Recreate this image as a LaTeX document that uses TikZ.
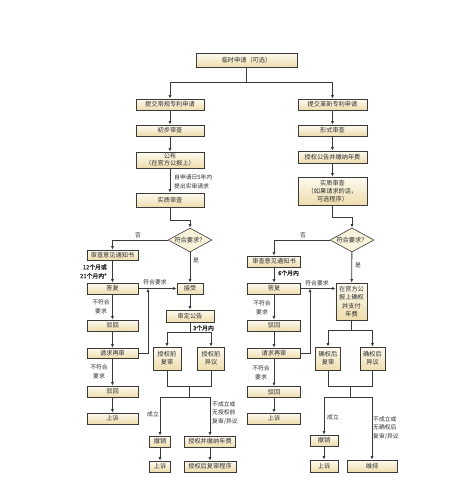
\documentclass[tikz,border=0pt]{standalone}
\usepackage{fontspec}
\setmainfont{Noto Sans CJK SC}
\newfontfamily\bfcjk[FakeBold=1.5]{Noto Sans CJK SC}
\usetikzlibrary{shapes.geometric,arrows.meta,calc}
\definecolor{lnc}{HTML}{3A3A3A}
\definecolor{bxtop}{HTML}{FDFAF0}
\definecolor{bxbot}{HTML}{EEDDAD}
\definecolor{dmd}{HTML}{F7F2DA}
\definecolor{txt}{HTML}{2E2E2E}
\begin{document}
\begin{tikzpicture}[x=1pt,y=-1pt,
  every node/.style={text=txt, font=\fontsize{6.2}{8}\selectfont},
  bx/.style 2 args={draw=lnc, line width=0.6pt, top color=bxtop, bottom color=bxbot,
    minimum width=#1, minimum height=#2, inner sep=0pt, align=center},
  dm/.style={diamond, draw=lnc, line width=0.6pt, fill=dmd, minimum width=44,
    minimum height=24, inner sep=0pt, aspect=1.8},
  lb/.style={inner sep=0pt, align=center, font=\fontsize{5.8}{8.8}\selectfont},
  blb/.style={inner sep=0pt, align=right, font=\bfcjk\fontsize{5.8}{8.8}\selectfont},
  ar/.style={draw=lnc, line width=0.8pt, -{Latex[length=3.5pt,width=3pt]}},
  cn/.style={draw=lnc, line width=0.8pt}]
\fill[white] (0,0) rectangle (455,504);
\useasboundingbox (0,0) rectangle (455,504);

% boxes
\node[bx={101}{14}] (top) at (246.5,60) {临时申请（可选）};
\node[bx={68}{11}] (L1) at (170,104.5) {提交常规专利申请};
\node[bx={69}{11}] (R1) at (332.5,104.5) {提交革新专利申请};
\node[bx={68}{11}] (L2) at (170,130.5) {初步审查};
\node[bx={69}{11}] (R2) at (332.5,130.5) {形式审查};
\node[bx={68}{16}, font=\fontsize{6.2}{7.2}\selectfont] (L3) at (170,160) {公布\\（在官方公报上）};
\node[bx={69}{12}] (R3) at (332.5,157) {授权公告并缴纳年费};
\node[bx={68}{14}] (L4) at (170,200) {实质审查};
\node[bx={69}{28}] (R4) at (332.5,191) {实质审查\\（如果请求的话，\\可选程序）};
\node[dm] (LD) at (190,240) {符合要求？};
\node[dm] (RD) at (352,240) {符合要求？};
\node[bx={51}{10}] (L5) at (112.5,255) {审查意见通知书};
\node[bx={53}{11}] (R5) at (274,261.5) {审查意见通知书};
\node[bx={51}{11}] (L6) at (112.5,288.5) {答复};
\node[bx={53}{11}] (R6) at (274,288.5) {答复};
\node[bx={26}{11}] (Lacc) at (190,288.5) {接受};
\node[bx={31}{37}, font=\fontsize{6.2}{8.5}\selectfont] (Rok) at (351.5,301.5) {在官方公\\报上确权\\并支付\\年费};
\node[bx={51}{11}] (L7) at (112.5,325.5) {驳回};
\node[bx={53}{11}] (R7) at (274,325.5) {驳回};
\node[bx={51}{10}] (L8) at (112.5,353) {请求再审};
\node[bx={53}{10}] (R8) at (274,353) {请求再审};
\node[bx={51}{11}] (L9) at (112.5,391.5) {驳回};
\node[bx={53}{11}] (R9) at (274,392) {驳回};
\node[bx={51}{11}] (L10) at (112.5,418.5) {上诉};
\node[bx={53}{11}] (R10) at (274,418.5) {上诉};
\node[bx={48}{12}] (Lpub) at (190,316) {审定公告};
\node[bx={28}{23}] (Lre) at (167,358.5) {授权前\\复审};
\node[bx={27}{23}] (Lop) at (211,358.5) {授权前\\异议};
\node[bx={25}{23}] (Rre) at (328,358.5) {确权后\\复审};
\node[bx={25}{23}] (Rop) at (372.5,358.5) {确权后\\异议};
\node[bx={21}{11}] (Lrev) at (160,441.5) {撤销};
\node[bx={51}{11}] (Lgr) at (210,441.5) {授权并缴纳年费};
\node[bx={21}{11}] (Lap) at (160,466.5) {上诉};
\node[bx={52}{11}] (Lpost) at (210,466.5) {授权后复审程序};
\node[bx={28}{11}] (Rrev) at (324,440.5) {撤销};
\node[bx={28}{12}] (Rap) at (324,466) {上诉};
\node[bx={50}{12}] (Rkeep) at (372,466) {维持};

% labels
\node[lb, anchor=west, align=left] (t1) at (174,182) {自申请日5年内\\提出实审请求};
\node[lb] (no1) at (138,235) {否};
\node[lb] (no2) at (303,235) {否};
\node[lb] (yes1) at (196,260) {是};
\node[lb] (yes2) at (358,265) {是};
\node[blb, anchor=east] (t12) at (107,271.5) {12个月或\\21个月内*};
\node[blb, anchor=west] (t6) at (278,273) {6个月内};
\node[lb] (ok1) at (155,282) {符合要求};
\node[lb] (ok2) at (317,283) {符合要求};
\node[lb] (nf1) at (101,306.5) {不符合\\要求};
\node[lb] (nf2) at (262,307.5) {不符合\\要求};
\node[lb] (nf3) at (99,372) {不符合\\要求};
\node[lb] (nf4) at (261,372.5) {不符合\\要求};
\node[blb, anchor=west] (t3) at (193,328) {3个月内};
\node[lb] (est1) at (153,414) {成立};
\node[lb] (est2) at (333,417) {成立};
\node[lb, anchor=west, align=left] (nest1) at (212,413) {不成立或\\无授权前\\复审/异议};
\node[lb, anchor=west, align=left] (nest2) at (373,428) {不成立或\\无确权后\\复审/异议};

% connectors
\coordinate (s0) at (246.5,82);
\draw[cn] (top) -- (s0);
\draw[ar] (s0) -| (L1);
\draw[ar] (s0) -| (R1);
\draw[ar] (L1) -- (L2);
\draw[ar] (L2) -- (L3);
\draw[ar] (L3) -- (L4);
\draw[ar] (R1) -- (R2);
\draw[ar] (R2) -- (R3);
\draw[ar] (R3) -- (R4);
\draw[ar] (L4.south) -- ++(0,13) -| (LD.north);
\draw[ar] (R4.south) -- ++(0,12) -| (RD.north);
\draw[ar] (LD.west) -| (L5.north);
\draw[ar] (RD.west) -| (R5.north);
\draw[ar] (L5) -- (L6);
\draw[ar] (R5) -- (R6);
\draw[ar] (LD) -- (Lacc);
\draw[ar] (RD) -- (Rok);
\draw[ar] (L6) -- (Lacc);
\draw[ar] (R6.east) -- (R6.east -| Rok.west);
\draw[ar] (L6) -- (L7);
\draw[ar] (L7) -- (L8);
\draw[ar] (L8) -- (L9);
\draw[ar] (L9) -- (L10);
\draw[ar] (R6) -- (R7);
\draw[ar] (R7) -- (R8);
\draw[ar] (R8) -- (R9);
\draw[ar] (R9) -- (R10);
\coordinate (jl) at (148,288.5);
\coordinate (jr) at (310,288.5);
\draw[ar] (L8.east) -| (jl);
\draw[ar] (R8.east) -| (jr);
\draw[ar] (Lacc) -- (Lpub);
\draw[cn] (Lpub.south) -- ++(0,10) coordinate (lp);
\draw[ar] (lp) -| (Lre);
\draw[ar] (lp) -| (Lop);
\draw[cn] (Lre.south) -- ++(0,16) -| (Lop.south);
\coordinate (lm) at (189,386);
\draw[cn] (lm) -- ++(0,11) coordinate (lm2);
\draw[ar] (lm2) -| (Lrev);
\draw[ar] (lm2) -| (Lgr);
\draw[ar] (Lrev) -- (Lap);
\draw[ar] (Lgr) -- (Lpost);
\draw[cn] (Rok.south) -- ++(0,10) coordinate (rp);
\draw[ar] (rp) -| (Rre);
\draw[ar] (rp) -| (Rop);
\draw[cn] (Rre.south) -- ++(0,16) -| (Rop.south);
\coordinate (rm) at (350,386);
\draw[cn] (rm) -- ++(0,11) coordinate (rm2);
\draw[ar] (rm2) -| (Rrev);
\draw[ar] (rm2) -| (Rkeep);
\draw[ar] (Rrev) -- (Rap);
\end{tikzpicture}
\end{document}
